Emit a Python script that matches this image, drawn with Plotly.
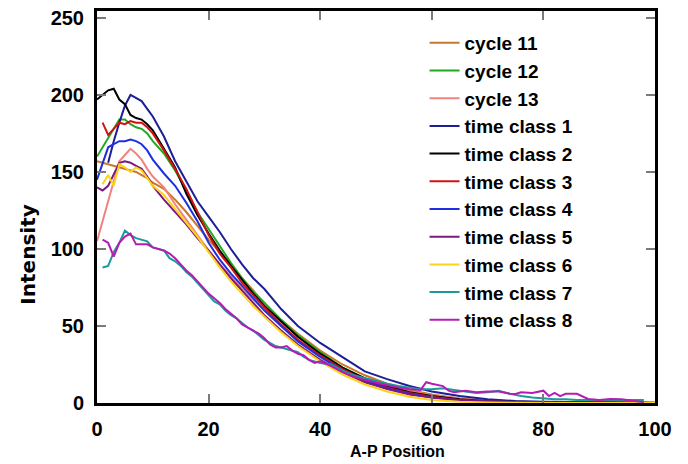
import plotly.graph_objects as go

# A-P positions used for the smooth profiles
x_main = [0, 1, 2, 3, 4, 5, 6, 7, 8, 9, 10, 12, 14, 16, 18, 20, 22, 24, 26, 28,
          30, 33, 36, 40, 44, 48, 52, 56, 60, 65, 70, 75, 80, 90, 100]

cycle_11 = [157, 156, 155, 154, 153, 152, 151, 150, 148, 146, 143, 139, 132, 124, 115, 106, 98, 90, 81, 73,
            65, 54, 45, 34, 25, 18, 12.5, 8.5, 5.5, 3, 1.5, 0.8, 0.4, 0.15, 0]
cycle_12 = [160, 166, 172, 178, 184, 184, 181, 179, 178, 175, 170, 162, 151, 138, 124, 113, 102, 91, 81, 72,
            65, 54, 44, 33, 23, 16, 10.5, 7, 4.5, 2.5, 1.3, 0.7, 0.4, 0.2, 0.1]
cycle_13 = [105, 118, 131, 145, 157, 161, 165, 162, 158, 152, 147, 140, 129, 119, 109, 99, 90, 82, 74, 67,
            60, 50, 41, 31, 22.5, 16, 11, 7.5, 5, 3, 1.5, 0.8, 0.4, 0.2, 0.1]
time_class_1 = [None, None, 156, 170, 182, 193, 200, 198, 196, 191, 186, 173, 157, 144, 131, 121, 111, 100, 90, 81,
                74, 61, 50, 39, 30, 20.5, 15.5, 11, 7.5, 4.5, 2.5, 1.3, 0.8, 0.4, 0.2]
time_class_2 = [197, 200, 203, 204, 197, 194, 187, 185, 184, 181, 177, 165, 153, 136, 122, 110, 99, 89, 80, 71,
                63, 53, 43, 32, 23, 16, 11, 7, 4.5, 2.5, 1.2, 0.6, 0.3, 0.1, 0]
time_class_3 = [None, 182, 174, 178, 182, 181, 183, 182, 182, 179, 175, 164, 152, 139, 124, 109, 97, 88, 78, 70,
                62, 51, 41, 31, 22, 15, 10, 6.5, 4, 2, 1, 0.5, 0.3, 0.1, 0]
time_class_4 = [145, 156, 166, 168, 170, 170, 171, 170, 168, 164, 158, 149, 141, 130, 118, 104, 93, 84, 76, 68,
                60, 50, 40, 30, 21, 14.5, 9.5, 6, 3.5, 1.8, 0.9, 0.5, 0.3, 0.1, 0]
time_class_5 = [140, 138, 141, 149, 156, 157, 156, 154, 152, 147, 141, 132, 124, 116, 107, 99, 90, 81, 73, 65,
                57, 47, 38, 28, 20, 13.5, 9, 5.5, 3.5, 1.8, 1, 0.5, 0.3, 0.1, 0]
time_class_6 = [None, 142, 148, 141, 155, 153, 150, 153, 151, 146, 141, 135, 126, 117, 108, 98, 88, 79, 71, 63,
                56, 46, 37, 27, 18.5, 12, 7.5, 4, 2, 0.8, 0.3, 0.1, 0, 0, 0]

# noisier profiles, sampled at every position
x_tc7 = [1, 2, 3, 4, 5, 6, 7, 8, 9, 10, 11, 12, 13, 14, 15, 16, 17, 18, 19, 20,
         21, 22, 23, 24, 25, 26, 27, 28, 29, 30, 31, 32, 33, 34, 35, 36, 37, 38, 39, 40,
         42, 44, 46, 48, 50, 52, 54, 56, 58, 60, 62, 64, 66, 68, 70, 72, 74, 76, 78, 80,
         82, 84, 86, 88, 90, 92, 94, 96, 98]
time_class_7 = [88, 89, 98, 104, 112, 109, 107, 106, 105, 101, 100, 99, 94, 92, 89, 85, 82, 78, 74, 70,
                66, 64, 60, 57, 55, 52, 49, 47, 44, 41, 39, 37, 36, 35, 34, 33, 30, 28, 27, 26,
                25, 21, 18, 16, 14, 12.5, 11, 10, 9, 9, 9.5, 8.5, 7.5, 6.5, 7, 8, 6, 4.5, 3.5, 3,
                2.5, 2.5, 2, 2, 2, 2, 2, 2, 2]

x_tc8 = [1, 2, 3, 4, 5, 6, 7, 8, 9, 10, 11, 12, 13, 14, 15, 16, 17, 18, 19, 20,
         21, 22, 23, 24, 25, 26, 27, 28, 29, 30, 31, 32, 33, 34, 35, 36, 37, 38, 39, 40,
         42, 44, 46, 48, 50, 52, 54, 56, 58, 59, 60, 61, 62, 63, 64, 66, 68, 70, 72, 74,
         75, 76, 78, 80, 81, 82, 83, 84, 86, 88, 90, 92, 94, 96, 98]
time_class_8 = [106, 104, 95, 104, 108, 110, 103, 103, 103, 101, 100, 99, 97, 94, 90, 86, 83, 79, 75, 71,
                68, 65, 61, 58, 55, 51, 49, 47, 45, 42, 38, 36, 36, 37, 34, 32, 31, 28, 26, 27,
                24, 20, 17, 15, 13, 11.5, 10, 9, 8.5, 13.5, 12.5, 11.5, 11, 8, 7, 8, 7, 7.5, 7.5, 6,
                5.8, 7, 6.5, 8, 4.5, 6.5, 4.5, 6, 6, 2.6, 2, 2.6, 2.5, 1.5, 0.5]

series_names = ["cycle 11", "cycle 12", "cycle 13", "time class 1", "time class 2", "time class 3",
                "time class 4", "time class 5", "time class 6", "time class 7", "time class 8"]
series_colors = ["#c8782c", "#1faa1f", "#f0847c", "#1e1e96", "#000000", "#d01212",
                 "#1f2fe0", "#7a1a80", "#ffd21a", "#1a9a9a", "#b41cb4"]

font_family = "Liberation Sans, Arial, sans-serif"


def build_figure():
    """Draw the A-P intensity profiles."""
    profiles = [
        (x_main, cycle_11), (x_main, cycle_12), (x_main, cycle_13),
        (x_main, time_class_1), (x_main, time_class_2), (x_main, time_class_3),
        (x_main, time_class_4), (x_main, time_class_5), (x_main, time_class_6),
        (x_tc7, time_class_7), (x_tc8, time_class_8),
    ]

    fig = go.Figure()
    for (xs, ys), name, color in zip(profiles, series_names, series_colors):
        fig.add_trace(go.Scatter(x=xs, y=ys, mode="lines", name=name,
                                 line=dict(color=color, width=2)))

    axis_style = dict(
        showline=True, linecolor="black", linewidth=3, mirror="ticks",
        ticks="inside", ticklen=9, tickwidth=1.5, tickcolor="#7a7a7a",
        showgrid=False, zeroline=False, automargin=False,
        tickfont=dict(family=font_family, size=20, color="black", weight="bold"),
        ticklabelstandoff=6, ticklabeloverflow="allow",
    )

    fig.update_xaxes(range=[0, 100], tickvals=[0, 20, 40, 60, 80, 100], **axis_style)
    # the frame runs a little above the 250 tick
    fig.update_yaxes(range=[0, 254.5], tickvals=[0, 50, 100, 150, 200, 250], **axis_style)

    # axis titles as annotations so they sit where the original has them
    fig.add_annotation(text="A-P Position", x=0.538, y=-0.098, xref="paper", yref="paper",
                       xanchor="center", yanchor="top", showarrow=False,
                       font=dict(family=font_family, size=16, color="black", weight="bold"))
    fig.add_annotation(text="Intensity", x=-0.124, y=0.378, xref="paper", yref="paper",
                       xanchor="center", yanchor="middle", textangle=-90, showarrow=False,
                       font=dict(family="DejaVu Sans, sans-serif", size=20, color="black",
                                 weight="bold"))

    # page body adds 8px around the figure, so the margins are shifted by that much
    fig.update_layout(
        width=688, height=464,
        margin=dict(l=89, r=41, t=3, b=69, autoexpand=False),
        paper_bgcolor="white", plot_bgcolor="white",
        showlegend=True,
        legend=dict(x=0.587, y=0.967, xanchor="left", yanchor="top",
                    bgcolor="rgba(0,0,0,0)", borderwidth=0,
                    font=dict(family=font_family, size=19, color="black", weight="bold")),
    )
    return fig


def main():
    fig = build_figure()
    fig.write_html("out.html")


if __name__ == "__main__":
    main()
